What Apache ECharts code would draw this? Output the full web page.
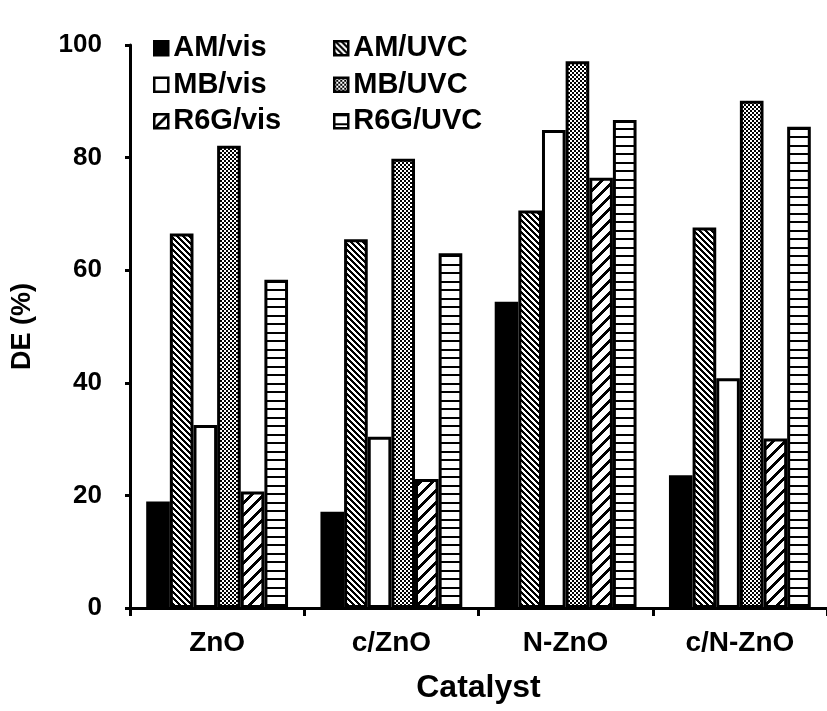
<!DOCTYPE html>
<html>
<head>
<meta charset="utf-8">
<script src="https://cdn.jsdelivr.net/npm/echarts@6/dist/echarts.min.js"></script>
<style>
html,body{margin:0;padding:0;background:#fff;}
#chart{width:827px;height:711px;}
</style>
</head>
<body>
<div id="chart"></div>
<script>
const categories = ['ZnO', 'c/ZnO', 'N-ZnO', 'c/N-ZnO'];
const seriesNames = ['AM/vis', 'AM/UVC', 'MB/vis', 'MB/UVC', 'R6G/vis', 'R6G/UVC'];
const amVis  = [18.9, 17.1, 54.4, 23.6];
const amUVC  = [66.5, 65.5, 70.6, 67.6];
const mbVis  = [32.5, 30.4, 84.9, 40.8];
const mbUVC  = [82.1, 79.8, 97.1, 90.1];
const r6gVis = [20.7, 22.9, 76.4, 30.1];
const r6gUVC = [58.3, 63.0, 86.7, 85.5];
const yTicks = [0, 20, 40, 60, 80, 100];

const FONT = '"Liberation Sans", Arial, sans-serif';

function makeTile(w, h, isBlack) {
  const c = document.createElement('canvas');
  c.width = w; c.height = h;
  const ctx = c.getContext('2d');
  const img = ctx.createImageData(w, h);
  for (let y = 0; y < h; y++) {
    for (let x = 0; x < w; x++) {
      const v = isBlack(x, y) ? 0 : 255;
      const i = (y * w + x) * 4;
      img.data[i] = v; img.data[i + 1] = v; img.data[i + 2] = v; img.data[i + 3] = 255;
    }
  }
  ctx.putImageData(img, 0, 0);
  return c;
}
const pBack = makeTile(6, 6, (x, y) => ((x - y + 60) % 6) < 3);
const pChecker = makeTile(4, 4, (x, y) => ((Math.floor(x / 2) + Math.floor(y / 2)) % 2) === 0);
const pSlash = makeTile(12, 12, (x, y) => ((x + y) % 12) < 4);
const pHoriz = makeTile(4, 17, (x, y) => (y < 2) || (y >= 9 && y < 11));

const fills = [
  '#000000',
  { image: pBack, repeat: 'repeat' },
  '#ffffff',
  { image: pChecker, repeat: 'repeat' },
  { image: pSlash, repeat: 'repeat' },
  { image: pHoriz, repeat: 'repeat' }
];
const values = [amVis, amUVC, mbVis, mbUVC, r6gVis, r6gUVC];

const chart = echarts.init(document.getElementById('chart'), null, { renderer: 'canvas' });

const legendText = { fontSize: 29, fontWeight: 'bold', color: '#000', fontFamily: FONT, lineHeight: 36.5 };
const legendBase = {
  orient: 'vertical', top: 30, itemGap: 0, itemWidth: 14, itemHeight: 14,
  icon: 'rect', selectedMode: false, padding: 0,
  textStyle: legendText,
  itemStyle: { borderColor: '#000', borderWidth: 2.5 }
};

const option = {
  backgroundColor: '#fff',
  animation: false,
  grid: { left: 130, top: 45, bottom: 103, width: 708, containLabel: false },
  legend: [
    Object.assign({}, legendBase, { left: 153, data: ['AM/vis', 'MB/vis', 'R6G/vis'] }),
    Object.assign({}, legendBase, { left: 333, data: ['AM/UVC', 'MB/UVC', 'R6G/UVC'] })
  ],
  xAxis: {
    type: 'category',
    data: categories,
    name: 'Catalyst',
    nameLocation: 'middle',
    nameGap: 64,
    nameTextStyle: { fontSize: 32, fontWeight: 'bold', color: '#000', fontFamily: FONT },
    axisLine: { lineStyle: { color: '#000', width: 3 } },
    axisTick: { show: true, length: 8, lineStyle: { color: '#000', width: 3 } },
    axisLabel: { fontSize: 28, fontWeight: 'bold', color: '#000', fontFamily: FONT, margin: 21 },
    splitLine: { show: false }
  },
  yAxis: {
    type: 'value',
    min: yTicks[0],
    max: yTicks[yTicks.length - 1],
    interval: yTicks[1] - yTicks[0],
    name: 'DE (%)',
    nameLocation: 'middle',
    nameGap: 94,
    nameTextStyle: { fontSize: 27, fontWeight: 'bold', color: '#000', fontFamily: FONT },
    axisLine: { show: true, lineStyle: { color: '#000', width: 3 } },
    axisTick: { show: true, length: 5, lineStyle: { color: '#000', width: 3 } },
    axisLabel: { fontSize: 26, fontWeight: 'bold', color: '#000', fontFamily: FONT, margin: 28 },
    splitLine: { show: false }
  },
  series: seriesNames.map((name, i) => ({
    name: name,
    type: 'bar',
    data: values[i],
    barGap: '0%',
    barCategoryGap: '18.6%',
    itemStyle: { color: fills[i], borderColor: '#000', borderWidth: 3 }
  }))
};
chart.setOption(option);
</script>
</body>
</html>
